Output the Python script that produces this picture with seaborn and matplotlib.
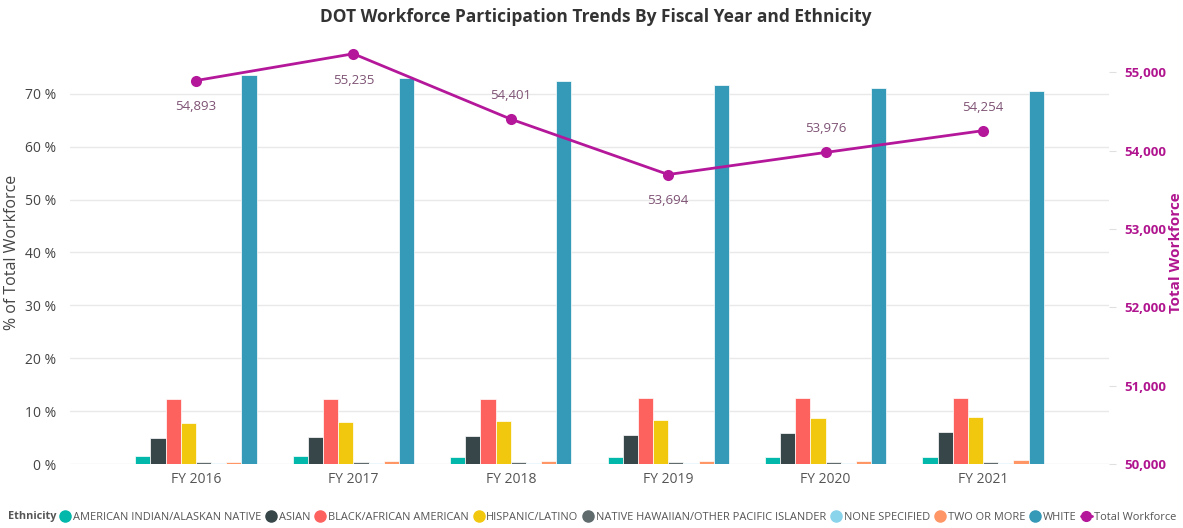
import numpy as np
import pandas as pd
import matplotlib
matplotlib.use("Agg")
import matplotlib.pyplot as plt
from matplotlib.lines import Line2D
import seaborn as sns

# data
years = ['FY 2016', 'FY 2017', 'FY 2018', 'FY 2019', 'FY 2020', 'FY 2021']
ethnicities = ['AMERICAN INDIAN/ALASKAN NATIVE', 'ASIAN', 'BLACK/AFRICAN AMERICAN',
               'HISPANIC/LATINO', 'NATIVE HAWAIIAN/OTHER PACIFIC ISLANDER',
               'NONE SPECIFIED', 'TWO OR MORE', 'WHITE']
american_indian = [1.5, 1.5, 1.3, 1.3, 1.3, 1.3]
asian = [4.9, 5.1, 5.3, 5.4, 5.8, 6.0]
black = [12.3, 12.3, 12.3, 12.5, 12.5, 12.5]
hispanic = [7.8, 8.0, 8.2, 8.4, 8.7, 8.9]
native_hawaiian = [0.4, 0.4, 0.4, 0.4, 0.4, 0.4]
none_specified = [0.1, 0.1, 0.1, 0.1, 0.1, 0.1]
two_or_more = [0.45, 0.6, 0.6, 0.6, 0.6, 0.8]
white = [73.5, 73.0, 72.4, 71.7, 71.1, 70.5]
total_workforce = [54893, 55235, 54401, 53694, 53976, 54254]

# label placement for the line values (style, not data)
label_side = ['below', 'below', 'above', 'below', 'above', 'above']

palette = ['#01B8AA', '#374649', '#FD625E', '#F2C80F', '#5F6B6D', '#8AD4EB', '#FE9666', '#3599B8']
line_color = '#B4179A'
axis_color = '#B0158F'
label_color = '#7E5274'

series = [american_indian, asian, black, hispanic, native_hawaiian,
          none_specified, two_or_more, white]
df = pd.DataFrame({
    'Year': np.repeat([years], len(ethnicities), axis=0).ravel(),
    'Ethnicity': np.repeat(ethnicities, len(years)),
    'Pct': np.concatenate(series),
})

sns.set_style('white')
plt.rcParams['font.family'] = ['Open Sans', 'DejaVu Sans']

fig = plt.figure(figsize=(11.83, 5.28), dpi=100)
ax = fig.add_axes([70 / 1183, 64 / 528, 1039 / 1183, 423 / 528])

sns.barplot(data=df, x='Year', y='Pct', hue='Ethnicity', palette=palette,
            width=0.77, gap=0, ax=ax, edgecolor='white', linewidth=0.5,
            saturation=1, legend=False, order=years, hue_order=ethnicities)

ax.set_ylim(0, 80)
ax.set_yticks(np.arange(0, 80, 10))
ax.set_yticklabels([f'{v} %' for v in range(0, 80, 10)], fontsize=10, color='#444444')
ax.tick_params(axis='x', labelsize=10, colors='#555555', length=0, pad=6)
ax.tick_params(axis='y', length=0, pad=10)
ax.grid(axis='y', color='#E9E9E9', linewidth=1)
ax.set_axisbelow(True)
ax.set_xlabel('')
ax.set_ylabel('% of Total Workforce', fontsize=11.5, color='#444444')
ax.yaxis.set_label_coords(-50 / 1039, 0.5)
for s in ax.spines.values():
    s.set_visible(False)

ax2 = ax.twinx()
sns.lineplot(x=np.arange(len(years)), y=total_workforce, ax=ax2, color=line_color,
             linewidth=2, marker='o', markersize=8, markeredgewidth=0)
ax2.set_ylim(50000, 55398)
ax2.set_yticks(np.arange(50000, 55001, 1000))
ax2.set_yticklabels([f'{v:,}' for v in range(50000, 55001, 1000)],
                    fontsize=9.5, color=axis_color, fontweight='bold')
ax2.tick_params(axis='y', length=5, color='#E0E0E0', pad=6)
ax2.set_ylabel('Total Workforce', fontsize=11, color=axis_color, fontweight='bold')
ax2.yaxis.set_label_coords(1099 / 1039, 0.5)
for s in ax2.spines.values():
    s.set_visible(False)

for i, v in enumerate(total_workforce):
    dy = -19 if label_side[i] == 'below' else 17
    ax2.annotate(f'{v:,}', (i, v), xytext=(0, dy), textcoords='offset points',
                 ha='center', va='center', fontsize=9.5, color=label_color)
ax.set_xlim(-0.8, 5.8)

fig.text(596 / 1183, 1 - 17 / 528, 'DOT Workforce Participation Trends By Fiscal Year and Ethnicity',
         ha='center', va='center', fontsize=12.5, fontweight='bold', color='#333333')

# legend along the bottom
fig.text(8 / 1183, 11 / 528, 'Ethnicity', ha='left', va='center', fontsize=7.8,
         fontweight='bold', color='#555555')
handles = [Line2D([], [], linestyle='none', marker='o', markersize=8, color=c) for c in palette]
handles.append(Line2D([], [], color=line_color, linewidth=2, marker='o', markersize=7))
fig.legend(handles, ethnicities + ['Total Workforce'], loc='center left',
           bbox_to_anchor=(60 / 1183, 11 / 528), ncol=9, frameon=False,
           handlelength=1.0, handletextpad=0.2, columnspacing=0.4,
           borderpad=0, borderaxespad=0, fontsize=7.9, labelcolor='#555555')

fig.savefig('out.png', dpi=100)
